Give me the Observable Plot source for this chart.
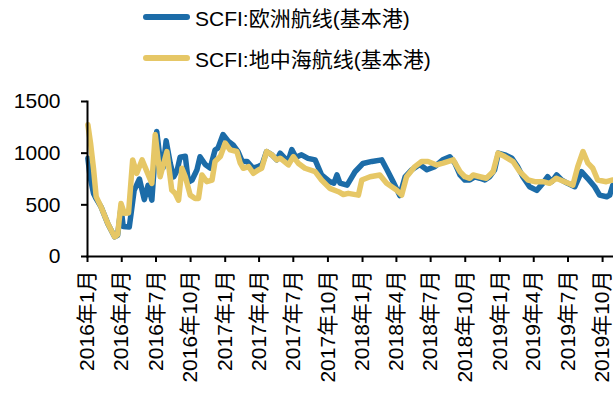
<!DOCTYPE html>
<html><head><meta charset="utf-8">
<script src="https://cdn.jsdelivr.net/npm/d3@7"></script>
<script src="https://cdn.jsdelivr.net/npm/@observablehq/plot@0.6"></script>
<style>
body{margin:0;background:#fff;font-family:"Liberation Sans",Arial,"Noto Sans CJK SC",sans-serif;}
#legend{height:85px;position:relative;width:613px;}
.item{position:absolute;left:143px;height:30px;display:flex;align-items:center;font-size:21px;color:#000;white-space:nowrap;}
.sw{width:47px;height:6px;border-radius:3px;margin-right:5px;}
</style></head><body>
<div id="legend"></div><div id="chart"></div>
<script>
const seriesNames = ["SCFI:欧洲航线(基本港)", "SCFI:地中海航线(基本港)"];
const seriesColors = ["#1C6CA8", "#E6C766"];

const euDates = ["2016-01-02","2016-01-08","2016-01-17","2016-01-24","2016-02-06","2016-02-24","2016-03-13","2016-03-21","2016-03-30","2016-04-05","2016-04-21","2016-04-26","2016-05-04","2016-05-18","2016-05-31","2016-06-10","2016-06-20","2016-07-03","2016-07-12","2016-07-20","2016-07-28","2016-08-08","2016-08-17","2016-08-26","2016-09-03","2016-09-17","2016-09-25","2016-10-05","2016-10-18","2016-10-26","2016-11-09","2016-11-22","2016-12-05","2016-12-13","2016-12-26","2017-01-09","2017-01-22","2017-02-04","2017-02-15","2017-02-28","2017-03-16","2017-03-29","2017-04-09","2017-04-21","2017-05-05","2017-05-18","2017-05-27","2017-06-09","2017-06-17","2017-06-27","2017-07-08","2017-07-23","2017-08-09","2017-08-28","2017-09-14","2017-10-06","2017-10-17","2017-10-25","2017-11-02","2017-11-21","2017-12-12","2018-01-02","2018-01-26","2018-02-21","2018-03-07","2018-03-23","2018-04-10","2018-04-24","2018-05-12","2018-06-02","2018-06-21","2018-07-12","2018-08-02","2018-08-21","2018-09-03","2018-09-17","2018-09-30","2018-10-13","2018-10-26","2018-11-09","2018-11-22","2018-12-05","2018-12-18","2018-12-28","2019-01-14","2019-02-02","2019-02-17","2019-03-03","2019-03-21","2019-04-09","2019-04-25","2019-05-08","2019-05-19","2019-06-01","2019-06-14","2019-06-30","2019-07-19","2019-08-06","2019-08-22","2019-09-10","2019-09-23","2019-10-12","2019-10-20","2019-10-28"];
const euValues = [950,770,610,560,480,318,190,205,470,290,285,420,640,750,550,690,545,1210,940,860,1120,900,770,830,960,970,720,740,840,965,890,855,1030,1050,1180,1115,1080,1015,920,920,855,870,890,1016,984,935,1000,950,920,1035,960,984,950,935,790,725,710,790,710,690,820,900,920,935,840,725,590,770,840,890,840,870,935,965,905,790,740,740,770,757,740,772,838,1000,984,951,870,772,675,640,708,772,724,789,740,708,675,821,757,675,594,578,594,690];

const medDates = ["2016-01-02","2016-01-09","2016-01-17","2016-01-24","2016-02-06","2016-02-24","2016-03-13","2016-03-21","2016-03-30","2016-04-08","2016-04-19","2016-04-30","2016-05-11","2016-05-25","2016-06-07","2016-06-20","2016-06-29","2016-07-12","2016-07-30","2016-08-12","2016-08-21","2016-08-30","2016-09-08","2016-09-17","2016-09-30","2016-10-13","2016-10-22","2016-10-31","2016-11-13","2016-11-27","2016-12-05","2016-12-19","2017-01-01","2017-01-14","2017-02-01","2017-02-10","2017-02-18","2017-03-04","2017-03-17","2017-03-30","2017-04-08","2017-04-21","2017-05-05","2017-05-18","2017-05-27","2017-06-18","2017-07-01","2017-07-14","2017-08-01","2017-08-28","2017-09-14","2017-10-06","2017-10-29","2017-11-11","2017-11-24","2017-12-21","2017-12-30","2018-01-21","2018-02-16","2018-03-06","2018-04-01","2018-04-15","2018-04-28","2018-05-20","2018-06-07","2018-06-24","2018-07-17","2018-08-03","2018-08-30","2018-09-17","2018-09-30","2018-10-13","2018-10-22","2018-11-09","2018-11-26","2018-12-14","2018-12-27","2019-01-14","2019-02-05","2019-02-23","2019-03-17","2019-04-04","2019-04-26","2019-05-13","2019-05-31","2019-06-22","2019-07-14","2019-07-27","2019-08-10","2019-08-23","2019-09-05","2019-09-18","2019-10-11","2019-10-28"];
const medValues = [1275,1100,850,580,480,320,190,210,513,418,420,935,805,935,821,708,1180,772,1015,643,611,545,854,772,594,562,562,789,724,740,919,967,1098,1032,1016,903,854,870,805,838,854,1016,984,935,951,886,967,903,854,821,740,659,627,600,611,594,740,772,789,708,643,594,772,870,919,919,886,903,935,821,772,757,789,772,757,821,1000,967,919,821,740,724,724,708,757,724,691,870,1016,903,854,740,724,740];

const xTickDates = ["2016-01-01","2016-04-01","2016-07-01","2016-10-01","2017-01-01","2017-04-01","2017-07-01","2017-10-01","2018-01-01","2018-04-01","2018-07-01","2018-10-01","2019-01-01","2019-04-01","2019-07-01","2019-10-01"];
const yTicks = [0, 500, 1000, 1500];

const eu = euDates.map((d, i) => ({date: new Date(d), value: euValues[i]}));
const med = medDates.map((d, i) => ({date: new Date(d), value: medValues[i]}));
const xTicks = xTickDates.map(d => new Date(d));

// legend
const legend = document.getElementById("legend");
seriesNames.forEach((name, i) => {
  const it = document.createElement("div");
  it.className = "item";
  it.style.top = (i === 0 ? 2 : 43) + "px";
  it.innerHTML = `<span class="sw" style="background:${seriesColors[i]}"></span><span>${name}</span>`;
  legend.appendChild(it);
});

const chart = Plot.plot({
  width: 613,
  height: 316,
  marginTop: 16,
  marginBottom: 145,
  marginLeft: 87,
  marginRight: 0,
  x: {type: "utc", domain: [new Date("2016-01-01"), new Date("2019-10-30")]},
  y: {domain: [0, 1500]},
  style: {fontFamily: '"Liberation Sans", Arial, "Noto Sans CJK SC", sans-serif', fontSize: "21px", color: "#000", background: "#fff", overflow: "visible"},
  marks: [
    Plot.line(eu, {x: "date", y: "value", stroke: seriesColors[0], strokeWidth: 5.5, strokeLinejoin: "round", strokeLinecap: "round", curve: "linear"}),
    Plot.line(med, {x: "date", y: "value", stroke: seriesColors[1], strokeWidth: 5.5, strokeLinejoin: "round", strokeLinecap: "round", curve: "linear"}),
    Plot.axisY({ticks: yTicks, tickFormat: d => String(d), tickSize: 6, tickPadding: 21, label: null, fontSize: 21, strokeWidth: 2}),
    Plot.axisX({ticks: xTicks, tickFormat: d => `${d.getUTCFullYear()}年${d.getUTCMonth() + 1}月`, tickRotate: -90, tickSize: 6, tickPadding: 8, label: null, fontSize: 21, strokeWidth: 2}),
    Plot.frame({anchor: "left", strokeWidth: 2}),
    Plot.frame({anchor: "bottom", strokeWidth: 2})
  ]
});
document.getElementById("chart").appendChild(chart);
</script>
</body></html>
